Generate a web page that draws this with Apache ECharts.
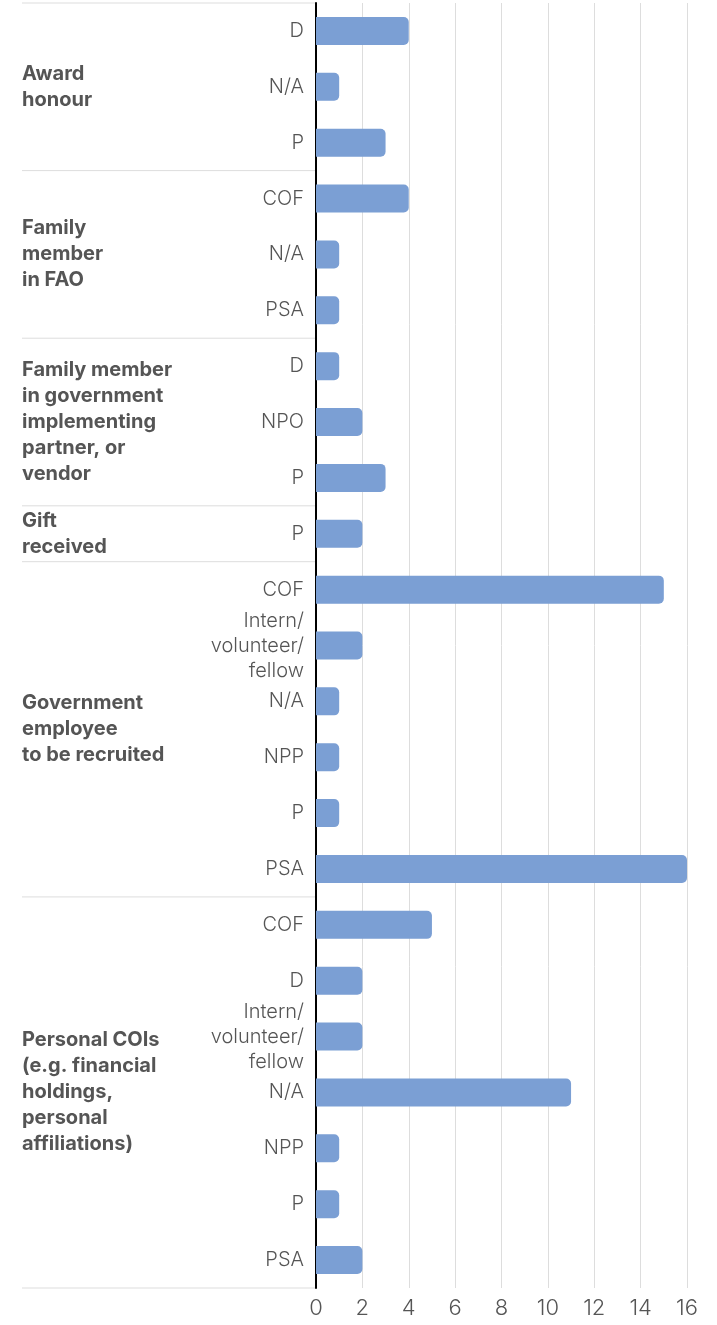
<!DOCTYPE html>
<html>
<head>
    <title>Conflicts of interest</title>
    <meta charset="utf-8">
    <script src="https://cdn.jsdelivr.net/npm/echarts@6/dist/echarts.min.js"></script>
    <style>
        html, body { margin: 0; padding: 0; background: #fff; }
        #main { width: 717px; height: 1325px; }
    </style>
</head>
<body>
<div id="main"></div>
<script>
    // group labels (left column) and how many rows each one spans
    var groupNames = [
        'Award\nhonour',
        'Family\nmember\nin FAO',
        'Family member\nin government\nimplementing\npartner, or\nvendor',
        'Gift\nreceived',
        'Government\nemployee\nto be recruited',
        'Personal COIs\n(e.g. financial\nholdings,\npersonal\naffiliations)'
    ];
    var groupSizes = [3, 3, 3, 1, 6, 7];

    // sub categories, top to bottom
    var subLabels = [
        'D', 'N/A', 'P',
        'COF', 'N/A', 'PSA',
        'D', 'NPO', 'P',
        'P',
        'COF', 'Intern/\nvolunteer/\nfellow', 'N/A', 'NPP', 'P', 'PSA',
        'COF', 'D', 'Intern/\nvolunteer/\nfellow', 'N/A', 'NPP', 'P', 'PSA'
    ];
    var counts = [
        4, 1, 3,
        4, 1, 1,
        1, 2, 3,
        2,
        15, 2, 1, 1, 1, 16,
        5, 2, 2, 11, 1, 1, 2
    ];
    var xMin = 0, xMax = 16, xStep = 2;

    var textColor = '#555555';
    var fontName = 'Inter';

    var myChart = echarts.init(document.getElementById('main'));
    var rowIdx = subLabels.map(function (s, i) { return i; });

    myChart.setOption({
        animation: false,
        grid: { left: 316, right: 30, top: 3, bottom: 37, containLabel: false },
        xAxis: {
            type: 'value',
            min: xMin, max: xMax, interval: xStep,
            axisLine: { show: false },
            axisTick: { show: false },
            splitLine: { show: true, lineStyle: { color: '#dddddd', width: 1 } },
            axisLabel: { color: textColor, fontSize: 22, fontWeight: 300, fontFamily: fontName, margin: 9 }
        },
        yAxis: {
            type: 'category',
            inverse: true,
            data: rowIdx,
            axisLine: { show: true, lineStyle: { color: '#000', width: 2 } },
            axisTick: { show: false },
            axisLabel: {
                color: textColor, fontSize: 20, fontWeight: 300, fontFamily: fontName,
                margin: 12, lineHeight: 25, align: 'right',
                formatter: function (v) { return subLabels[v]; }
            }
        },
        series: [{
            type: 'bar',
            data: counts,
            barWidth: 28,
            itemStyle: { color: '#7b9fd4', borderRadius: [0, 5, 5, 0] },
            z: 1
        }]
    });

    // group labels and separators, placed from the y axis scale
    var py = function (i) { return myChart.convertToPixel({ yAxisIndex: 0 }, i); };
    var step = py(1) - py(0);
    var left = 22, right = 316;
    var graphics = [];
    var start = 0;
    var topY = py(0) - step / 2;
    graphics.push({ type: 'line', shape: { x1: left, y1: topY, x2: right, y2: topY },
        style: { stroke: '#dddddd', lineWidth: 1 } });
    groupSizes.forEach(function (n, g) {
        var end = start + n - 1;
        var y0 = py(start) - step / 2;
        var y1 = py(end) + step / 2;
        graphics.push({ type: 'line', shape: { x1: left, y1: y1, x2: right, y2: y1 },
            style: { stroke: '#dddddd', lineWidth: 1 } });
        graphics.push({
            type: 'text', x: left, y: (y0 + y1) / 2,
            style: {
                text: groupNames[g], fill: textColor, font: 'bold 20px ' + fontName,
                lineHeight: 26, align: 'left', verticalAlign: 'middle'
            }
        });
        start = end + 1;
    });
    myChart.setOption({ graphic: graphics });
</script>
</body>
</html>
